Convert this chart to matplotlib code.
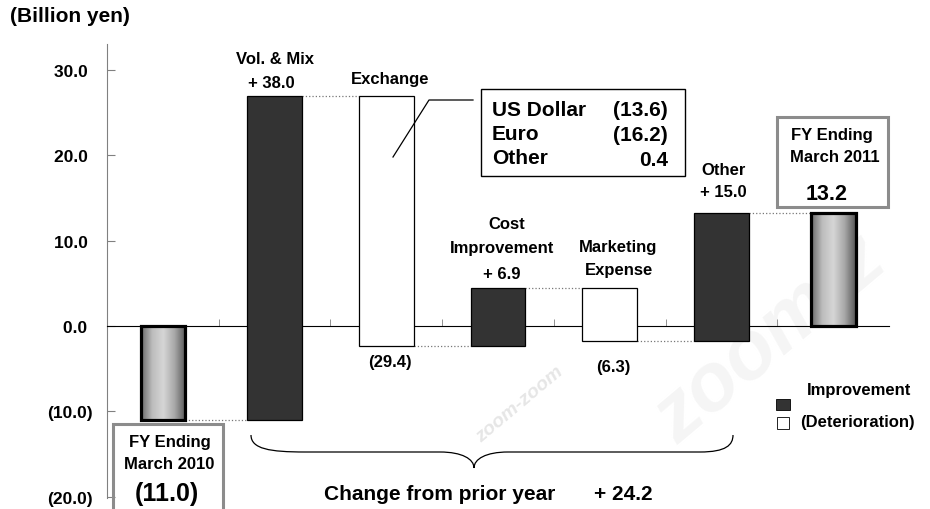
import numpy as np
import matplotlib
matplotlib.use('Agg')
import matplotlib.pyplot as plt
from matplotlib.patches import Rectangle, PathPatch
from matplotlib.path import Path
from matplotlib.colors import LinearSegmentedColormap
from matplotlib.lines import Line2D

plt.rcParams['font.family'] = ['Liberation Sans', 'DejaVu Sans']
plt.rcParams['font.weight'] = 'bold'

# Daten
start_value = -11.0
end_value = 13.2
steps = ['Vol. & Mix', 'Exchange', 'Cost\nImprovement', 'Marketing\nExpense', 'Other']
changes = [38.0, -29.4, 6.9, -6.3, 15.0]
total_change = 24.2
fx_names = ['US Dollar', 'Euro', 'Other']
fx_values = [-13.6, -16.2, 0.4]
ytick_values = [-20, -10, 0, 10, 20, 30]


def fmt(v, plus=False):
    if v < 0:
        return '(%.1f)' % abs(v)
    return ('+ %.1f' % v) if plus else '%.1f' % v


fig = plt.figure(figsize=(9.3, 5.1), dpi=100)
ax = fig.add_axes([0.1151, 0.021, 0.8409, 0.8898])
ax.patch.set_alpha(0)

W, H = 930.0, 510.0
def P(px, py):
    return (px / W, 1 - py / H)

# Wasserzeichen
fig.text(*P(770, 340), 'zoom-z', fontsize=58, color='#f5f5f5', rotation=40,
         style='italic', ha='center', va='center', zorder=-2)
fig.text(*P(520, 405), 'zoom-zoom', fontsize=14, color='#e6e6e6', rotation=40,
         style='italic', ha='center', va='center', zorder=-2)

ax.set_xlim(-0.5, 6.5)
ax.set_ylim(-20.2, 33)

# Achsen
ax.spines['right'].set_color('none')
ax.spines['top'].set_color('none')
ax.spines['left'].set_color('#808080')
ax.spines['bottom'].set_position(('data', 0))
ax.spines['bottom'].set_color('black')
ax.set_xticks([])
ax.set_xticks(np.arange(0.5, 6, 1), minor=True)
ax.tick_params(axis='x', which='minor', direction='in', length=5, color='#808080')
ax.set_yticks(ytick_values)
ax.set_yticklabels([fmt(v) + ('' if v < 0 else ' ') for v in ytick_values])
ax.tick_params(axis='y', direction='in', length=6, color='#808080', pad=10.5,
               labelsize=12.5)

# Wasserfall
cmap = LinearSegmentedColormap.from_list('cyl', ['#6a6a6a', '#bdbdbd', '#d6d6d6', '#a8a8a8', '#585858'])
grad = np.linspace(0, 1, 100).reshape(1, -1)

def total_bar(x, val):
    w = 0.4
    y0, y1 = min(0, val), max(0, val)
    im = ax.imshow(grad, cmap=cmap, aspect='auto', extent=(x - w / 2, x + w / 2, y0, y1), zorder=2)
    r = Rectangle((x - w / 2, y0), w, y1 - y0, fill=False, ec='black', lw=2.3, zorder=3)
    ax.add_patch(r)
    im.set_clip_path(r)

total_bar(0, start_value)
total_bar(6, end_value)

level = start_value
prev_x = 0 + 0.2
bars = []
for i, d in enumerate(changes):
    x = i + 1
    new = level + d
    color = '#333333' if d > 0 else 'white'
    ax.bar(x, d, bottom=level, width=0.49, color=color, edgecolor='black', lw=0.9, zorder=3)
    # Verbindungslinie
    ax.plot([prev_x, x - 0.245], [level, level], ls=':', color='#777777', lw=0.9, zorder=2)
    bars.append((x, level, new))
    level = new
    prev_x = x + 0.245
ax.plot([prev_x, 6 - 0.2], [level, level], ls=':', color='#777777', lw=0.9, zorder=2)

# Beschriftungen der Balken
kw = dict(ha='center', va='center', fontsize=12)
ax.text(1.0, 31.4, 'Vol. & Mix', **kw)
ax.text(0.97, bars[0][2] + 1.6, fmt(changes[0], True), **kw)
ax.text(2.03, 29.0, 'Exchange', **kw)
ax.text(2.03, bars[1][2] - 1.8, fmt(changes[1]), **kw)
ax.text(3.08, 12.0, 'Cost', **kw)
ax.text(3.04, 9.15, 'Improvement', **kw)
ax.text(3.03, bars[2][2] + 1.7, fmt(changes[2], True), **kw)
ax.text(4.07, 9.3, 'Marketing', **kw)
ax.text(4.08, 6.6, 'Expense', **kw)
ax.text(4.03, bars[3][2] - 2.9, fmt(changes[3]), **kw)
ax.text(5.02, 18.4, 'Other', **kw)
ax.text(5.02, bars[4][2] + 2.6, fmt(changes[4], True), **kw)

# Kästen Anfangs- und Endwert
fig.add_artist(Rectangle(P(113, 540), 110 / W, 115 / H, fill=False, ec='#8c8c8c', lw=2.2,
                         transform=fig.transFigure))
fig.text(*P(170, 442), 'FY Ending', ha='center', va='center', fontsize=12)
fig.text(*P(169, 465), 'March 2010', ha='center', va='center', fontsize=12)
fig.text(*P(167, 494), fmt(start_value), ha='center', va='center', fontsize=18)

fig.add_artist(Rectangle(P(777, 208), 111 / W, 90 / H, fill=False, ec='#8c8c8c', lw=2.2,
                         transform=fig.transFigure))
fig.text(*P(832, 136), 'FY Ending', ha='center', va='center', fontsize=12)
fig.text(*P(835, 158), 'March 2011', ha='center', va='center', fontsize=12)
fig.text(*P(827, 195), fmt(end_value), ha='center', va='center', fontsize=15.5)

# Wechselkurs-Aufschlüsselung
fig.add_artist(Rectangle(P(481, 177), 204 / W, 87 / H, fill=False, ec='black', lw=1.0,
                         transform=fig.transFigure))
for k, (name, val) in enumerate(zip(fx_names, fx_values)):
    yy = 110 + k * 24.5
    fig.text(*P(492, yy), name, ha='left', va='center', fontsize=15)
    fig.text(*P(668, yy + 1), fmt(val), ha='right', va='center', fontsize=15)
pts = [P(473, 101), P(429, 101), P(393, 158)]
fig.add_artist(Line2D([p[0] for p in pts], [p[1] for p in pts], color='black', lw=0.9,
                      transform=fig.transFigure))

# Klammer
verts = [P(251, 436), P(251, 450), P(270, 453), P(305, 453),
         P(440, 453),
         P(462, 453), P(474, 460), P(474, 469),
         P(474, 460), P(486, 453), P(508, 453),
         P(700, 453),
         P(726, 453), P(733, 446), P(733, 436)]
codes = [Path.MOVETO, Path.CURVE4, Path.CURVE4, Path.CURVE4,
         Path.LINETO,
         Path.CURVE4, Path.CURVE4, Path.CURVE4,
         Path.CURVE4, Path.CURVE4, Path.CURVE4,
         Path.LINETO,
         Path.CURVE4, Path.CURVE4, Path.CURVE4]
fig.add_artist(PathPatch(Path(verts, codes), fill=False, ec='black', lw=0.9,
                         transform=fig.transFigure))
fig.text(*P(324, 495), 'Change from prior year', ha='left', va='center', fontsize=15)
fig.text(*P(594, 495), fmt(total_change, True), ha='left', va='center', fontsize=15)

# Legende
fig.add_artist(Rectangle(P(776, 411), 14 / W, 11 / H, fc='#333333', ec='black', lw=0.6,
                         transform=fig.transFigure))
fig.text(*P(807, 391), 'Improvement', ha='left', va='center', fontsize=12)
fig.add_artist(Rectangle(P(777, 430), 12 / W, 12 / H, fc='white', ec='black', lw=0.6,
                         transform=fig.transFigure))
fig.text(*P(800, 423), '(Deterioration)', ha='left', va='center', fontsize=12)

fig.text(*P(10, 17), '(Billion yen)', ha='left', va='center', fontsize=15)

fig.savefig('out.png', dpi=100)
